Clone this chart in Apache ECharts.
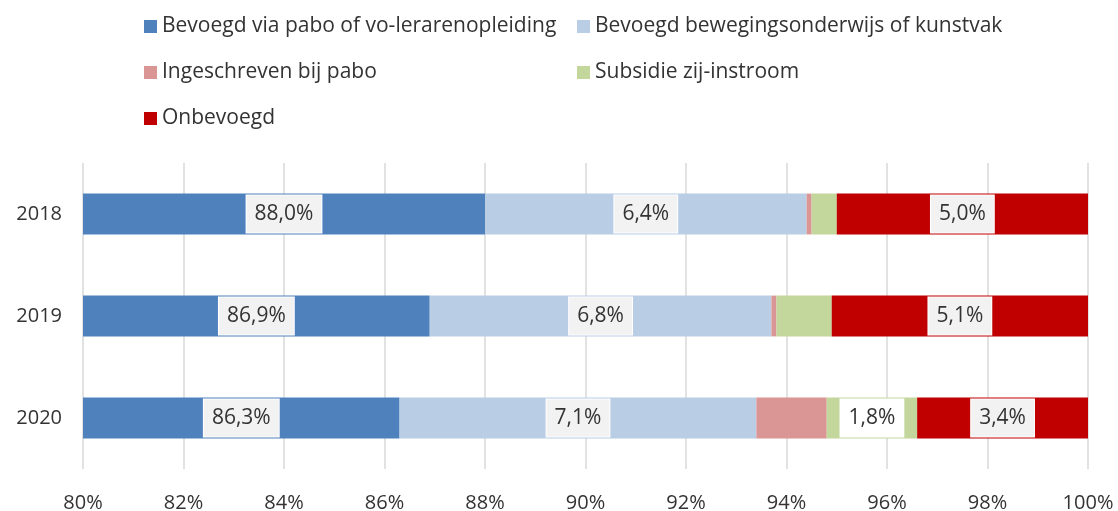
<!DOCTYPE html>
<html>
<head>
<meta charset="utf-8">
<script src="https://cdn.jsdelivr.net/npm/echarts@6/dist/echarts.min.js"></script>
<style>
  html, body { margin: 0; padding: 0; background: #ffffff; }
  #chart { width: 1118px; height: 511px; }
</style>
</head>
<body>
<div id="chart"></div>
<script>
// Share of teachers by qualification, per school year (percent)
const years = ['2018', '2019', '2020'];
const seriesNames = [
  'Bevoegd via pabo of vo-lerarenopleiding',
  'Bevoegd bewegingsonderwijs of kunstvak',
  'Ingeschreven bij pabo',
  'Subsidie zij-instroom',
  'Onbevoegd'
];
const bevoegdPabo = [88.0, 86.9, 86.3];
const bevoegdBewegingKunst = [6.4, 6.8, 7.1];
const ingeschrevenPabo = [0.1, 0.1, 1.4];
const subsidieZijInstroom = [0.5, 1.1, 1.8];
const onbevoegd = [5.0, 5.1, 3.4];
const xTicks = { min: 80, max: 100, step: 2 };

const colors = ['#4f81bd', '#b9cde5', '#d99694', '#c3d69b', '#c00000'];
const values = [bevoegdPabo, bevoegdBewegingKunst, ingeschrevenPabo, subsidieZijInstroom, onbevoegd];
const FONT = '"Open Sans", "Liberation Sans", sans-serif';
const TEXT = '#333333';

const fmt = v => v.toFixed(1).replace('.', ',') + '%';

const series = values.map((vals, i) => ({
  name: seriesNames[i],
  type: 'bar',
  stack: 'total',
  barWidth: '40%',
  itemStyle: { color: colors[i] },
  data: vals.map(v => ({
    value: v,
    label: {
      show: v >= 1.5,
      position: 'inside',
      formatter: p => fmt(p.value),
      color: TEXT,
      fontFamily: FONT,
      fontSize: 21,
      lineHeight: 23,
      backgroundColor: i === 3 ? '#ffffff' : '#f2f2f2',
      borderColor: '#ffffff',
      borderWidth: 1,
      padding: [7, 8]
    }
  })),
  emphasis: { disabled: true }
}));

// legend laid out in two columns, one legend component per entry
const legendSpots = [
  { left: 139, top: 11 },
  { left: 572, top: 11 },
  { left: 139, top: 57 },
  { left: 572, top: 57 },
  { left: 139, top: 103 }
];
const legends = seriesNames.map((n, i) => ({
  data: [n],
  left: legendSpots[i].left,
  top: legendSpots[i].top,
  icon: 'rect',
  itemWidth: 13,
  itemHeight: 13,
  itemGap: 0,
  selectedMode: false,
  textStyle: { color: TEXT, fontFamily: FONT, fontSize: 21 }
}));

const chart = echarts.init(document.getElementById('chart'), null, { renderer: 'canvas' });
chart.setOption({
  animation: false,
  backgroundColor: '#ffffff',
  legend: legends,
  grid: { left: 83, right: 30, top: 163, bottom: 42, containLabel: false, outerBoundsMode: 'none' },
  xAxis: {
    type: 'value',
    min: xTicks.min,
    max: xTicks.max,
    interval: xTicks.step,
    axisLine: { show: false },
    axisTick: { show: false },
    splitLine: { show: true, lineStyle: { color: '#d9d9d9', width: 1.5 } },
    axisLabel: {
      formatter: '{value}%',
      color: TEXT,
      fontFamily: FONT,
      fontSize: 20,
      margin: 24
    }
  },
  yAxis: {
    type: 'category',
    data: years,
    inverse: true,
    axisLine: { show: false },
    axisTick: { show: false },
    axisLabel: { color: TEXT, fontFamily: FONT, fontSize: 20, margin: 21 }
  },
  series: series
});
</script>
</body>
</html>
